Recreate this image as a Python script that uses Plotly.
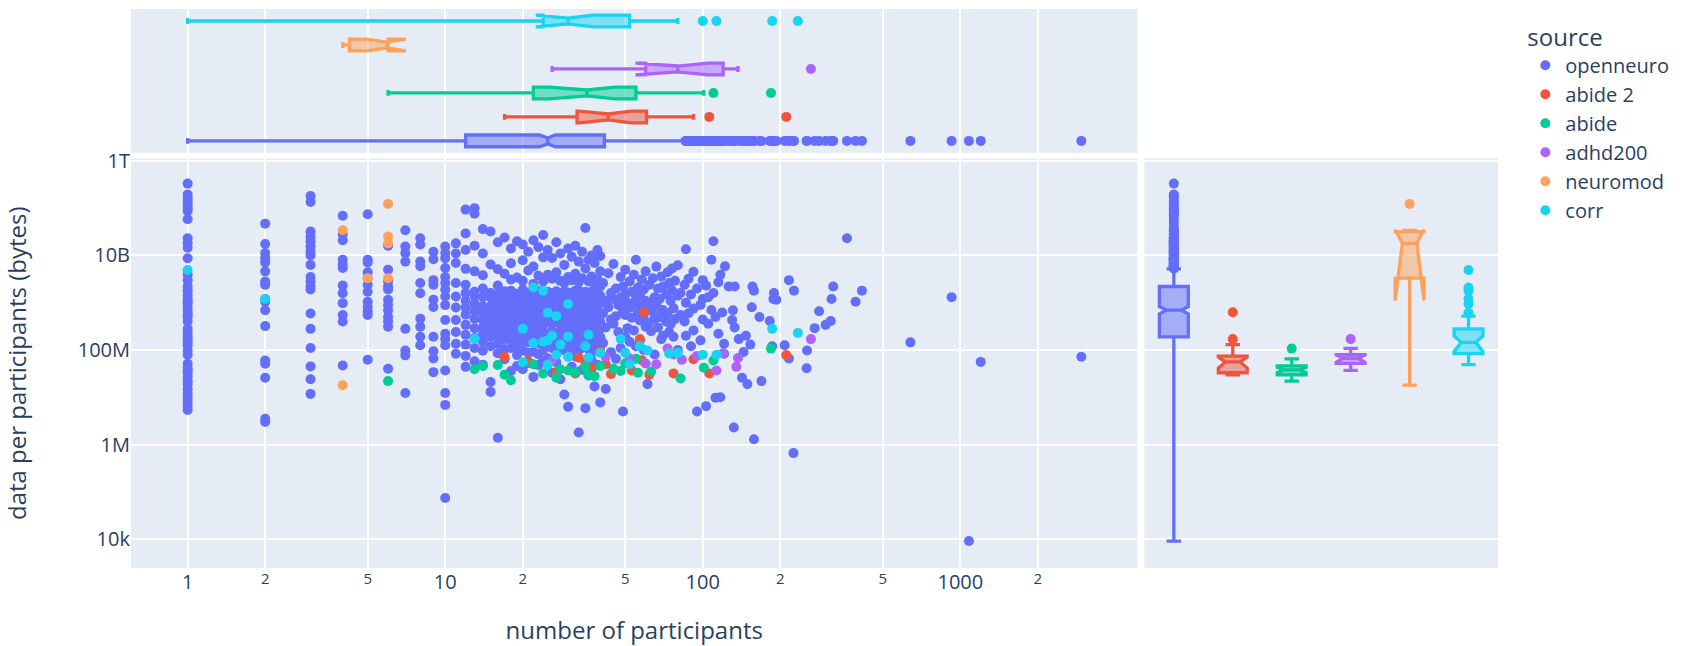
import pandas as pd
import plotly.express as px

X_COL = "number of participants"
Y_COL = "data per participants (bytes)"
SOURCES = ["openneuro", "abide 2", "abide", "adhd200", "neuromod", "corr"]

# openneuro: (number of participants, [data per participant values in bytes])
openneuro_small = [
    (1, [3.3e11, 1.95e11, 1.66e11, 1.41e11, 1.2e11, 1.02e11, 8.7e10, 5.8e10, 2.3e10, 1.8e10, 1.45e10, 8.7e9,
         3.9e9, 3.0e9, 2.2e9, 1.8e9, 1.45e9, 1.2e9, 1.1e9, 9.8e8, 7.9e8, 6.5e8, 5.6e8, 5.0e8, 4.0e8, 2.8e8,
         2.3e8, 1.9e8, 1.5e8, 1.26e8, 9.8e7, 7.9e7, 5.1e7, 4.2e7, 3.4e7, 2.75e7, 2.2e7, 1.9e7, 1.5e7, 1.2e7,
         1.0e7, 8.1e6, 6.6e6, 5.4e6, 3.7e7, 1.7e8]),
    (2, [4.7e10, 1.74e10, 1.12e10, 8.7e9, 7.1e9, 4.6e9, 2.8e9, 2.4e9, 1.2e9, 1.05e9, 6.9e8, 3.2e8, 6.0e7,
         5.1e7, 2.6e7, 3.5e6, 3.0e6]),
    (3, [1.8e11, 1.35e11, 3.2e10, 2.5e10, 2.0e10, 1.55e10, 1.2e10, 1.0e10, 6.3e9, 3.5e9, 2.8e9, 2.2e9, 1.9e9,
         5.9e8, 2.8e8, 1.1e8, 4.5e7, 2.4e7, 1.18e7]),
    (4, [6.9e10, 2.8e10, 2.1e10, 8.1e9, 6.3e9, 5.4e9, 2.3e9, 1.58e9, 9.8e8, 5.5e8, 4.0e8, 4.7e7]),
    (5, [7.4e10, 8.1e9, 7.1e9, 4.4e9, 3.3e9, 2.4e9, 1.7e9, 1.05e9, 8.1e8, 6.5e8, 5.5e8, 6.2e7]),
    (6, [1.6e10, 5.0e9, 2.8e9, 2.2e9, 1.9e9, 1.15e9, 8.9e8, 6.9e8, 5.0e8, 4.0e8, 3.1e8, 4.0e7]),
    (7, [3.4e10, 1.55e10, 1.12e10, 7.4e9, 2.8e8, 9.8e7, 7.7e7, 1.23e7]),
    (8, [2.3e10, 1.7e10, 7.4e9, 5.9e9, 2.6e9, 1.58e9, 4.6e8, 3.1e8, 1.9e8, 1.26e8]),
    (9, [1.2e10, 8.3e9, 3.0e9, 2.4e9, 1.15e9, 8.1e8, 1.9e8, 9.4e7, 6.6e7, 3.4e7]),
    (10, [1.55e10, 1.12e10, 8.7e9, 5.4e9, 3.5e9, 2.6e9, 1.9e9, 1.35e9, 8.9e8, 4.3e8, 2.2e8, 1.7e8, 1.26e8,
          3.7e7, 1.23e7, 6.9e6, 7.4e4]),
    (11, [1.8e10, 1.1e10, 6.9e9, 2.6e9, 1.35e9, 7.9e8, 4.3e8, 2.4e8, 1.35e8, 8.3e7]),
]
openneuro_mid = [
    (12, [9.3e10, 2.9e10, 1.3e10, 5.2e9, 2.4e9, 1.6e9, 1.1e9, 7.8e8, 5.6e8, 3.4e8, 2.1e8, 1.3e8, 7.5e7, 4.4e7]),
    (13, [1.0e11, 7.6e10, 1.6e10, 4.6e9, 1.7e9, 1.4e9, 9.5e8, 6.8e8, 4.6e8, 2.9e8, 1.8e8, 1.1e8, 5.8e7]),
    (14, [3.6e10, 1.1e10, 3.8e9, 2.0e9, 1.3e9, 8.4e8, 6.1e8, 4.3e8, 3.0e8, 2.2e8, 1.5e8, 9.6e7, 4.9e7]),
    (15, [3.2e10, 6.4e9, 1.6e9, 1.3e9, 8.5e8, 7.2e8, 5.3e8, 3.9e8, 2.6e8, 1.9e8, 1.2e8, 2.1e7, 1.3e7]),
    (16, [1.9e10, 5.1e9, 2.3e9, 1.45e9, 1.0e9, 7.6e8, 5.6e8, 4.1e8, 2.8e8, 2.0e8, 1.35e8, 8.5e7, 1.4e6]),
    (17, [2.4e10, 4.1e9, 1.75e9, 1.2e9, 8.8e8, 6.4e8, 4.9e8, 4.4e8, 3.3e8, 2.4e8, 1.7e8, 1.05e8, 6.4e7]),
    (18, [1.4e10, 6.8e9, 3.1e9, 1.8e9, 1.2e9, 9.0e8, 6.6e8, 4.8e8, 3.5e8, 2.5e8, 1.6e8, 1.1e8, 3.6e7]),
    (19, [2.0e10, 3.4e9, 1.55e9, 1.1e9, 7.8e8, 5.8e8, 4.5e8, 3.7e8, 2.7e8, 1.85e8, 1.25e8, 7.8e7, 4.6e7]),
    (20, [1.7e10, 7.9e9, 2.9e9, 1.9e9, 1.25e9, 8.6e8, 6.3e8, 4.6e8, 3.2e8, 2.3e8, 1.55e8, 9.8e7, 3.9e7]),
    (21, [1.2e10, 4.8e9, 1.65e9, 1.15e9, 8.2e8, 6.0e8, 4.7e8, 4.2e8, 2.95e8, 2.1e8, 1.45e8, 8.8e7, 5.3e7]),
    (22, [2.1e10, 5.8e9, 2.5e9, 1.65e9, 1.15e9, 8.2e8, 6.0e8, 4.4e8, 3.1e8, 2.15e8, 1.5e8, 9.2e7, 2.7e7]),
    (23, [1.5e10, 3.7e9, 1.8e9, 1.25e9, 9.0e8, 6.5e8, 4.8e8, 4.3e8, 3.0e8, 2.05e8, 1.4e8, 8.1e7, 4.8e7]),
    (24, [2.7e10, 9.1e9, 2.8e9, 1.7e9, 1.2e9, 8.7e8, 6.4e8, 4.7e8, 3.4e8, 2.4e8, 1.6e8, 1.0e8, 6.0e7]),
]
openneuro_upper = [
    (25, [1.3e10, 3.9e9, 1.7e9, 1.3e9, 9.0e8, 7.5e8, 4.5e8, 4.0e8, 1.9e8, 1.2e8, 6.7e7]),
    (26, [8.8e9, 3.2e9, 1.6e9, 1.2e9, 8.3e8, 5.1e8, 3.7e8, 2.6e8, 1.75e8, 1.1e8, 3.3e7]),
    (27, [1.9e10, 4.4e9, 1.75e9, 1.4e9, 1.0e9, 7.3e8, 4.4e8, 3.9e8, 1.85e8, 1.2e8, 5.5e7]),
    (28, [1.1e10, 2.9e9, 1.5e9, 1.1e9, 7.9e8, 4.9e8, 3.6e8, 2.5e8, 1.7e8, 1.05e8, 2.4e7]),
    (29, [6.3e9, 2.6e9, 1.75e9, 1.2e9, 8.5e8, 6.2e8, 4.6e8, 3.4e8, 1.6e8, 9.8e7, 1.15e7]),
    (30, [1.4e10, 3.5e9, 1.65e9, 1.25e9, 8.6e8, 5.2e8, 3.8e8, 2.7e8, 1.8e8, 1.15e8, 6.3e6]),
    (31, [9.4e9, 3.0e9, 1.55e9, 1.1e9, 8.1e8, 6.7e8, 4.4e8, 3.6e8, 1.7e8, 1.1e8, 4.4e7]),
    (32, [1.6e10, 4.1e9, 1.8e9, 1.35e9, 9.5e8, 5.4e8, 4.0e8, 2.8e8, 1.9e8, 1.2e8, 7.3e7]),
    (33, [7.4e9, 2.7e9, 1.8e9, 1.2e9, 8.6e8, 6.3e8, 4.3e8, 3.4e8, 1.65e8, 1.0e8, 1.8e6]),
    (34, [1.2e10, 3.3e9, 1.6e9, 1.15e9, 8.4e8, 5.0e8, 3.7e8, 2.6e8, 1.75e8, 1.1e8, 3.8e7]),
    (35, [3.8e10, 5.3e9, 1.7e9, 1.3e9, 9.5e8, 7.6e8, 4.6e8, 4.1e8, 1.95e8, 1.25e8, 5.9e6]),
    (36, [8.1e9, 2.8e9, 1.55e9, 1.05e9, 7.8e8, 4.8e8, 3.5e8, 2.5e8, 1.65e8, 1.05e8, 2.9e7]),
    (37, [1.0e10, 3.6e9, 1.7e9, 1.4e9, 9.9e8, 7.2e8, 4.5e8, 3.9e8, 1.8e8, 1.15e8, 6.1e7]),
    (38, [6.9e9, 2.5e9, 1.7e9, 1.15e9, 8.3e8, 4.5e8, 3.3e8, 2.3e8, 1.55e8, 9.5e7, 1.7e7]),
    (39, [1.3e10, 3.1e9, 1.6e9, 1.2e9, 8.2e8, 6.8e8, 4.4e8, 3.7e8, 1.7e8, 1.05e8, 4.9e7]),
    (40, [9.7e9, 4.6e9, 2.2e9, 1.4e9, 1.0e9, 5.4e8, 3.9e8, 2.8e8, 1.85e8, 1.2e8, 7.8e6]),
]
openneuro_wide = [
    (41, [2.6e9, 6.0e8, 1.4e8]), (42, [1.1e9, 3.0e8, 1.5e7]), (43, [4.2e9, 8.0e8]),
    (44, [1.6e9, 4.4e8, 9.0e7]), (45, [6.6e9, 1.2e9, 3.6e8]), (46, [2.0e9, 5.2e8, 6.5e7]),
    (47, [9.0e8, 2.4e8]), (48, [3.5e9, 1.3e9, 1.1e8]), (49, [2.2e9, 6.8e8, 5.0e6]),
    (50, [5.0e9, 1.5e9, 5.5e8, 1.9e8]), (51, [1.0e9, 2.9e8]), (52, [2.8e9, 7.8e8, 1.5e8]),
    (53, [1.7e9, 4.8e8]), (54, [3.9e9, 9.5e8, 2.6e8]), (55, [8.1e9, 1.2e9, 1.2e8]),
    (56, [2.1e9, 6.2e8]), (57, [1.4e9, 4.2e8, 1.6e8]), (58, [3.1e9, 8.4e8]),
    (59, [1.9e9, 5.5e8, 1.0e8]), (60, [4.6e9, 1.1e9, 3.1e8]), (61, [7.2e8, 1.9e7]),
    (62, [2.4e9, 3.8e8]), (63, [1.0e9, 2.5e8]), (64, [3.3e9, 6.5e8]),
    (65, [1.3e9, 4.6e8, 8.0e7]), (66, [5.8e9, 9.0e8]), (67, [2.0e9, 3.0e8]),
    (68, [1.2e9, 5.0e8]), (69, [3.6e9, 1.7e8]), (70, [2.2e9, 7.0e8, 2.0e8]),
    (72, [1.5e9, 4.0e8]), (73, [4.4e9, 6.0e8]), (74, [2.6e9, 2.4e8]),
    (75, [1.1e9, 3.5e8]), (76, [5.3e9, 1.8e9]), (77, [7.6e8, 1.9e8]),
    (78, [2.9e9, 4.5e8]), (80, [6.2e9, 1.4e9, 1.0e8]), (82, [1.6e9, 5.5e8]),
]
openneuro_outer = [
    (85, [2.4e9, 4.0e8]), (86, [1.35e10, 1.0e9, 2.0e8]), (88, [3.2e9, 6.0e8]), (90, [1.5e9, 1.2e8]),
    (92, [4.5e9, 7.5e8, 2.6e8]), (95, [2.0e9, 5.0e6]), (98, [9.0e8, 1.6e8]), (100, [3.0e9, 1.2e9, 4.4e8]),
    (103, [2.3e9, 6.5e6]), (105, [1.3e9, 3.6e8]), (108, [8.1e9, 7.0e8]), (110, [2.0e10, 1.6e9]),
    (112, [5.0e8, 9.8e6]), (115, [2.7e9, 2.2e8]), (117, [3.9e9, 1.0e7]), (119, [6.2e8]),
    (121, [1.35e8, 8.3e7]), (122, [5.9e9]), (126, [2.2e9]), (130, [4.3e8]), (131, [6.9e8]),
    (132, [2.3e6]), (133, [2.2e9, 3.0e8]), (138, [1.7e8]), (142, [2.6e7]), (144, [9.1e7]),
    (147, [2.0e8]), (149, [1.9e7]), (153, [1.3e8]), (155, [8.0e8]), (156, [2.2e9]),
    (158, [1.8e9, 1.3e6]), (166, [5.0e8]), (169, [2.2e7]), (182, [4.1e8]), (186, [1.2e8]),
    (188, [1.2e9]), (189, [1.6e9]), (193, [1.15e9]), (208, [1.26e8]), (216, [3.0e9, 6.6e7]),
    (225, [6.6e5]), (226, [1.8e9]), (253, [4.1e7]), (254, [9.8e7]), (272, [2.9e8]), (283, [6.6e8]),
    (300, [3.4e8]), (314, [4.1e8]), (316, [1.2e9]), (321, [2.2e9]), (363, [2.3e10]), (392, [1.05e9]),
    (415, [1.8e9]), (640, [1.45e8]), (925, [1.3e9]), (1080, [9.1e3]), (1200, [5.6e7]), (2950, [7.2e7]),
]

abide2_x = [17, 21, 27, 28, 32, 33, 35, 37, 40, 42, 44, 53, 57, 58, 59, 62, 77, 92, 106, 211]
abide2_y = [7.1e7, 5.8e7, 3.4e7, 1.3e8, 3.2e7, 6.9e7, 5.4e7, 4.0e7, 9.5e7, 5.0e7, 3.1e7, 3.7e7, 1.7e8,
            6.1e7, 6.3e8, 3.0e7, 3.2e7, 6.4e7, 3.2e7, 7.8e7]

abide_x = [6, 13, 14, 16, 17, 18, 22, 24, 27, 28, 30, 32, 35, 36, 38, 40, 45, 48, 50, 55, 56, 63, 82, 101,
           110, 184]
abide_y = [2.2e7, 3.9e7, 4.6e7, 4.8e7, 3.0e7, 2.3e7, 5.0e7, 3.2e7, 2.6e7, 3.9e7, 3.7e7, 3.4e7, 4.4e7, 3.0e7,
           2.8e7, 4.6e7, 4.0e7, 3.6e7, 5.2e7, 6.5e7, 3.3e7, 3.5e7, 2.5e7, 4.2e7, 6.0e7, 1.07e8]

adhd200_x = [26, 42, 52, 60, 66, 73, 77, 83, 95, 113, 120, 135, 137, 263]
adhd200_y = [6.0e7, 7.1e7, 6.6e7, 5.2e7, 5.0e7, 1.08e8, 8.0e7, 6.2e7, 7.5e7, 3.7e7, 8.5e7, 4.4e7, 6.8e7, 1.7e8]

neuromod_x = [4, 4, 5, 6, 6, 6, 6]
neuromod_y = [3.4e10, 1.8e7, 3.3e9, 1.23e11, 2.5e10, 1.8e10, 3.3e9]

corr_x = [1, 2, 13, 20, 20, 22, 22, 24, 24, 25, 25, 25, 26, 27, 27, 28, 30, 30, 30, 35, 36, 36, 40, 48, 50,
          52, 57, 61, 74, 80, 100, 113, 186, 234]
corr_y = [4.9e9, 1.2e9, 1.7e8, 2.8e8, 5.5e7, 2.1e9, 1.4e8, 1.8e9, 1.5e8, 6.1e8, 1.6e8, 4.9e7, 2.0e8, 5.2e8,
          7.9e7, 1.3e8, 9.4e8, 1.9e8, 7.1e7, 1.2e8, 2.1e8, 6.9e7, 8.7e7, 1.7e8, 8.7e7, 5.0e7, 1.2e8, 9.8e7,
          8.4e7, 8.7e7, 7.9e7, 7.9e7, 2.8e8, 2.3e8]

rows = []
for group in (openneuro_small, openneuro_mid, openneuro_upper, openneuro_wide, openneuro_outer):
    for n, values in group:
        for v in values:
            rows.append((n, v, "openneuro"))
for name, xs, ys in [("abide 2", abide2_x, abide2_y), ("abide", abide_x, abide_y),
                     ("adhd200", adhd200_x, adhd200_y), ("neuromod", neuromod_x, neuromod_y),
                     ("corr", corr_x, corr_y)]:
    for n, v in zip(xs, ys):
        rows.append((n, v, name))
df = pd.DataFrame(rows, columns=[X_COL, Y_COL, "source"])

fig = px.scatter(df, x=X_COL, y=Y_COL, color="source", log_x=True, log_y=True,
                 marginal_x="box", marginal_y="box",
                 category_orders={"source": SOURCES})
fig.update_traces(marker=dict(size=10), selector=dict(type="scatter"))
fig.update_traces(notched=True, line=dict(width=3.3), marker=dict(size=10), selector=dict(type="box"))

fig.update_layout(
    width=1706, height=646,
    margin=dict(l=131, r=208, t=9, b=78, autoexpand=False),
    font=dict(family="Open Sans", size=20),
    legend=dict(title=dict(text="source", font=dict(size=24)), font=dict(size=20), y=0.99),
)
fig.update_layout(
    xaxis=dict(range=[-0.22, 3.688], dtick="D2", title=dict(font=dict(size=24), standoff=32)),
    yaxis=dict(range=[3.39, 12.05], dtick=2, title=dict(font=dict(size=24), standoff=45)),
    yaxis2=dict(range=[3.39, 12.05], dtick=2),
    xaxis3=dict(range=[-0.22, 3.688], dtick="D2"),
)
fig.update_xaxes(gridwidth=1.7)
fig.update_yaxes(gridwidth=1.7)

fig.write_html("out.html", config={"displayModeBar": False},
               post_script="document.body.style.margin='0';")
